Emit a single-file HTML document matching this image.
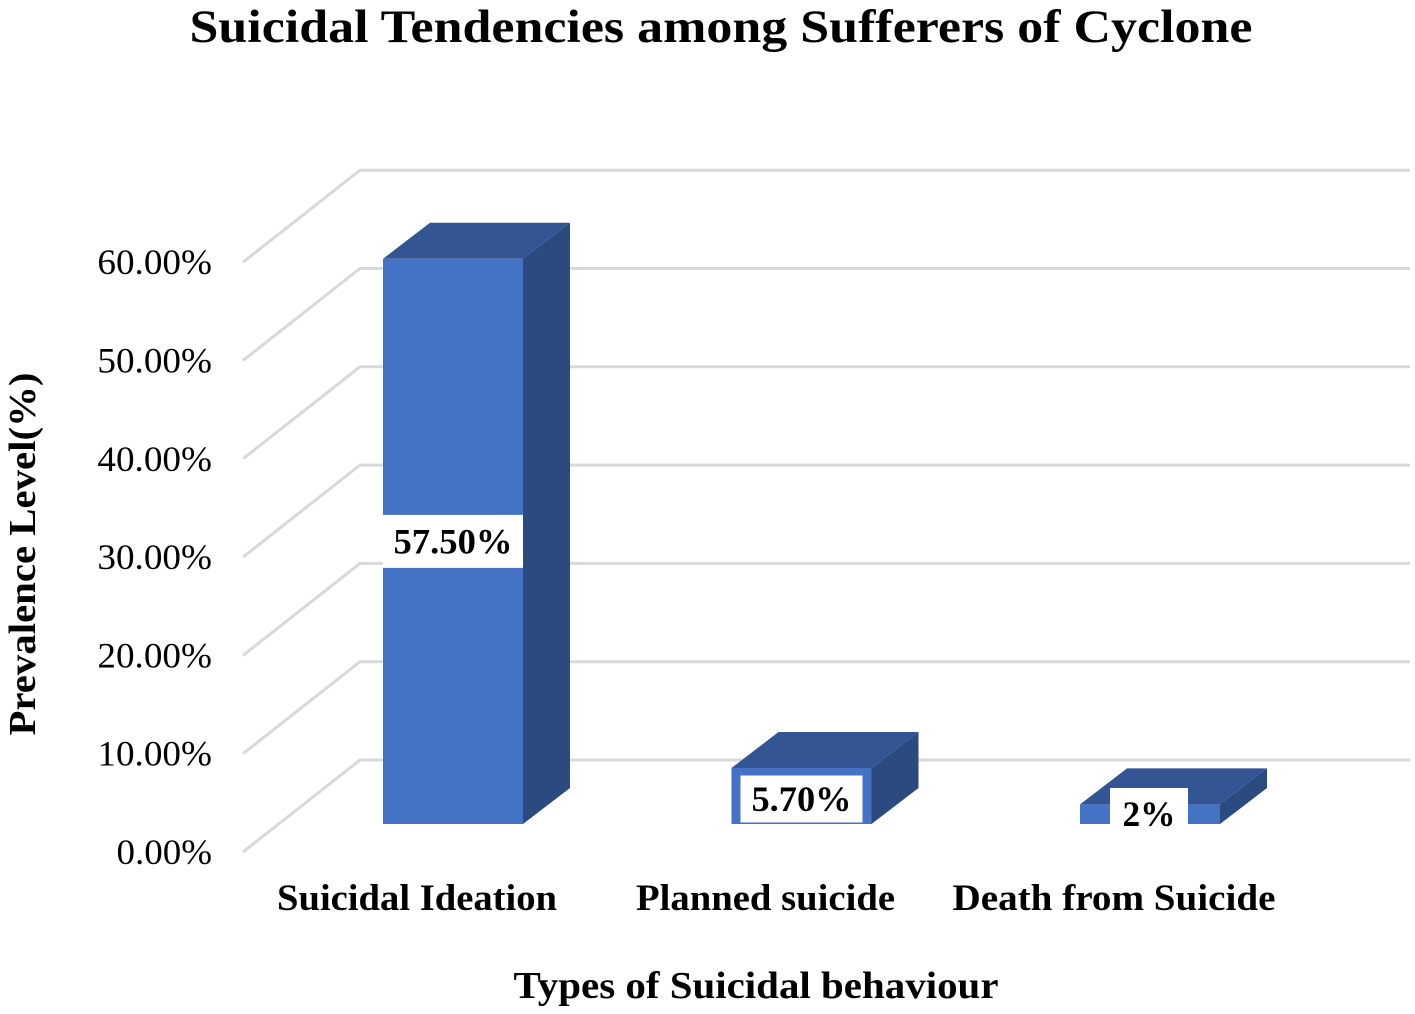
<!DOCTYPE html>
<html><head><meta charset="utf-8"><style>
body{margin:0;background:#fff;}
svg{display:block;font-family:"Liberation Serif",serif;}
</style></head><body>
<svg width="1415" height="1014" viewBox="0 0 1415 1014">
<text x="721" y="42" text-anchor="middle" font-size="47" font-weight="bold" textLength="1063" lengthAdjust="spacingAndGlyphs">Suicidal Tendencies among Sufferers of Cyclone</text>
<g id="grid"></g>
<g id="ticks"></g>
<g id="bars"></g>
<g id="cats"></g>
<text transform="translate(35,554) rotate(-90)" text-anchor="middle" font-size="38" font-weight="bold" textLength="363" lengthAdjust="spacingAndGlyphs">Prevalence Level(%)</text>
<text x="756" y="998" text-anchor="middle" font-size="38" font-weight="bold" textLength="485" lengthAdjust="spacingAndGlyphs">Types of Suicidal behaviour</text>
</svg>
<script>
const categories = ["Suicidal Ideation","Planned suicide","Death from Suicide"];
const values = [57.5, 5.7, 2];
const valueLabels = ["57.50%","5.70%","2%"];
const tickValues = [0,10,20,30,40,50,60];
const tickLabels = ["0.00%","10.00%","20.00%","30.00%","40.00%","50.00%","60.00%"];

const NS="http://www.w3.org/2000/svg";
const S=9.83;
const yFront=v=>852-v*S, yBack=v=>760-v*S, yBar=v=>824-v*S;
const xCat=i=>383+i*348.5;
function mk(tag,attrs,parent){const e=document.createElementNS(NS,tag);for(const k in attrs)e.setAttribute(k,attrs[k]);parent.appendChild(e);return e;}
const grid=document.getElementById('grid'),ticks=document.getElementById('ticks'),bars=document.getElementById('bars'),cats=document.getElementById('cats');
tickValues.forEach((v,i)=>{
  const p=mk('polyline',{points:`243,${yFront(v)} 360,${yBack(v)} 1410,${yBack(v)}`,fill:'none',stroke:'#d9d9d9','stroke-width':3},grid);
  
  
  const lab=tickLabels[i];
  const t=mk('text',{x:212,y:yFront(v)+12,'text-anchor':'end','font-size':36,textLength:lab.length*19.1,lengthAdjust:'spacingAndGlyphs'},ticks);
  t.textContent=lab;
  
  
});
const W=140,DX=47,DY=36;
const boxW=[140,122,78], boxDy=[0,-25,-15], boxDx=[0,0,-1], textW=[119,100,53], boxH=[53,47,42];
values.forEach((v,i)=>{
  const x=xCat(i),yt=yBar(v),yb=yBar(0);
  const g=mk('g',{},bars);
  
  
  mk('polygon',{points:`${x+W},${yt} ${x+W+DX},${yt-DY} ${x+W+DX},${yb-DY} ${x+W},${yb}`,fill:'#2b4a80'},g);
  mk('polygon',{points:`${x},${yt} ${x+DX},${yt-DY} ${x+W+DX},${yt-DY} ${x+W},${yt}`,fill:'#335593'},g);
  mk('rect',{x:x,y:yt,width:W,height:yb-yt,fill:'#4472c4'},g);
  const lab=valueLabels[i];
  const tw=boxW[i];
  const cy=i===0?yBar(v/2):yb+boxDy[i];
  const cx=x+W/2+boxDx[i];
  const bh=boxH[i];
  const r=mk('rect',{x:cx-tw/2,y:cy-bh/2,width:tw,height:bh,fill:'#fff'},g);
  
  
  const t=mk('text',{x:cx,y:cy+(i===2?17:12),'text-anchor':'middle','font-size':36,'font-weight':'bold',textLength:textW[i],lengthAdjust:'spacingAndGlyphs'},g);
  t.textContent=lab;
  
  
});
const catW=[280,259,323];
categories.forEach((c,i)=>{
  const t=mk('text',{x:xCat(i)+34,y:910,'text-anchor':'middle','font-size':37,'font-weight':'bold',textLength:catW[i],lengthAdjust:'spacingAndGlyphs'},cats);
  t.textContent=c;
  
  
});
</script>
</body></html>
